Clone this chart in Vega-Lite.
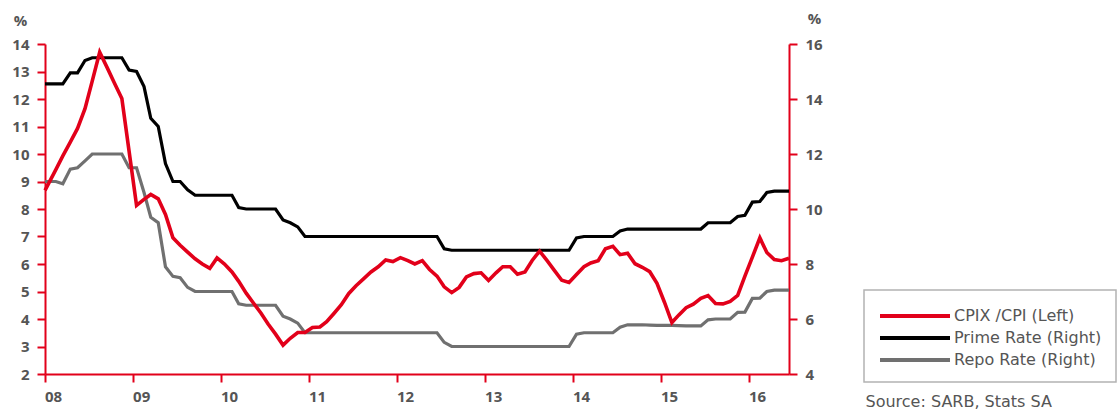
{
  "$schema": "https://vega.github.io/schema/vega-lite/v6.json",
  "width": 744,
  "height": 330,
  "autosize": "none",
  "padding": {"left": 45, "top": 44, "right": 330, "bottom": 36},
  "background": "white",
  "config": {
    "view": {"stroke": null},
    "font": "Open Sans",
    "axis": {
      "grid": false,
      "domainColor": "#e2001a",
      "domainWidth": 2,
      "tickColor": "#e2001a",
      "tickWidth": 2,
      "tickSize": 8,
      "labelFont": "Open Sans",
      "labelFontSize": 15,
      "labelFontWeight": "bold",
      "labelColor": "#555555",
      "titleFont": "Open Sans",
      "titleColor": "#555555"
    },
    "legend": {
      "orient": "none",
      "legendX": 819,
      "legendY": 246,
      "symbolType": "M-1,0L6,0",
      "symbolSize": 400,
      "symbolStrokeWidth": 4,
      "labelFont": "DejaVu Sans",
      "labelFontSize": 16,
      "labelColor": "#555555",
      "labelOffset": 52,
      "labelLimit": 300,
      "rowPadding": 2,
      "padding": 14,
      "strokeColor": "#b3b3b3",
      "strokeWidth": 1.5,
      "fillColor": "white"
    }
  },
  "data": {
    "values": [
      {"date": "2008-01-01", "cpi": 8.68, "prime": 14.55, "repo": 11.0},
      {"date": "2008-02-15", "cpi": 9.43, "prime": 14.55, "repo": 11.0},
      {"date": "2008-03-15", "cpi": 9.93, "prime": 14.55, "repo": 10.92},
      {"date": "2008-04-15", "cpi": 10.43, "prime": 14.95, "repo": 11.45},
      {"date": "2008-05-15", "cpi": 10.93, "prime": 14.95, "repo": 11.5},
      {"date": "2008-06-15", "cpi": 11.65, "prime": 15.4, "repo": 11.75},
      {"date": "2008-07-15", "cpi": 12.65, "prime": 15.5, "repo": 12.0},
      {"date": "2008-08-15", "cpi": 13.7, "prime": 15.5, "repo": 12.0},
      {"date": "2008-09-15", "cpi": 13.14, "prime": 15.5, "repo": 12.0},
      {"date": "2008-10-15", "cpi": 12.58, "prime": 15.5, "repo": 12.0},
      {"date": "2008-11-15", "cpi": 12.02, "prime": 15.5, "repo": 12.0},
      {"date": "2008-12-15", "cpi": 10.1, "prime": 15.05, "repo": 11.5},
      {"date": "2009-01-15", "cpi": 8.13, "prime": 15.0, "repo": 11.5},
      {"date": "2009-02-15", "cpi": 8.35, "prime": 14.45, "repo": 10.6},
      {"date": "2009-03-15", "cpi": 8.53, "prime": 13.3, "repo": 9.7},
      {"date": "2009-04-15", "cpi": 8.37, "prime": 13.0, "repo": 9.5},
      {"date": "2009-05-15", "cpi": 7.8, "prime": 11.65, "repo": 7.9},
      {"date": "2009-06-15", "cpi": 6.95, "prime": 11.0, "repo": 7.55},
      {"date": "2009-07-15", "cpi": 6.68, "prime": 11.0, "repo": 7.5},
      {"date": "2009-08-15", "cpi": 6.43, "prime": 10.7, "repo": 7.15},
      {"date": "2009-09-15", "cpi": 6.19, "prime": 10.5, "repo": 7.0},
      {"date": "2009-10-15", "cpi": 6.0, "prime": 10.5, "repo": 7.0},
      {"date": "2009-11-15", "cpi": 5.84, "prime": 10.5, "repo": 7.0},
      {"date": "2009-12-15", "cpi": 6.22, "prime": 10.5, "repo": 7.0},
      {"date": "2010-01-15", "cpi": 6.0, "prime": 10.5, "repo": 7.0},
      {"date": "2010-02-15", "cpi": 5.71, "prime": 10.5, "repo": 7.0},
      {"date": "2010-03-15", "cpi": 5.37, "prime": 10.05, "repo": 6.55},
      {"date": "2010-04-15", "cpi": 4.94, "prime": 10.0, "repo": 6.5},
      {"date": "2010-05-15", "cpi": 4.58, "prime": 10.0, "repo": 6.5},
      {"date": "2010-06-15", "cpi": 4.22, "prime": 10.0, "repo": 6.5},
      {"date": "2010-07-15", "cpi": 3.82, "prime": 10.0, "repo": 6.5},
      {"date": "2010-08-15", "cpi": 3.45, "prime": 10.0, "repo": 6.5},
      {"date": "2010-09-15", "cpi": 3.05, "prime": 9.6, "repo": 6.1},
      {"date": "2010-10-15", "cpi": 3.3, "prime": 9.5, "repo": 6.0},
      {"date": "2010-11-15", "cpi": 3.51, "prime": 9.35, "repo": 5.85},
      {"date": "2010-12-15", "cpi": 3.51, "prime": 9.0, "repo": 5.5},
      {"date": "2011-01-15", "cpi": 3.69, "prime": 9.0, "repo": 5.5},
      {"date": "2011-02-15", "cpi": 3.71, "prime": 9.0, "repo": 5.5},
      {"date": "2011-03-15", "cpi": 3.9, "prime": 9.0, "repo": 5.5},
      {"date": "2011-04-15", "cpi": 4.21, "prime": 9.0, "repo": 5.5},
      {"date": "2011-05-15", "cpi": 4.52, "prime": 9.0, "repo": 5.5},
      {"date": "2011-06-15", "cpi": 4.93, "prime": 9.0, "repo": 5.5},
      {"date": "2011-07-15", "cpi": 5.21, "prime": 9.0, "repo": 5.5},
      {"date": "2011-08-15", "cpi": 5.46, "prime": 9.0, "repo": 5.5},
      {"date": "2011-09-15", "cpi": 5.71, "prime": 9.0, "repo": 5.5},
      {"date": "2011-10-15", "cpi": 5.9, "prime": 9.0, "repo": 5.5},
      {"date": "2011-11-15", "cpi": 6.15, "prime": 9.0, "repo": 5.5},
      {"date": "2011-12-15", "cpi": 6.09, "prime": 9.0, "repo": 5.5},
      {"date": "2012-01-15", "cpi": 6.23, "prime": 9.0, "repo": 5.5},
      {"date": "2012-02-15", "cpi": 6.12, "prime": 9.0, "repo": 5.5},
      {"date": "2012-03-15", "cpi": 6.0, "prime": 9.0, "repo": 5.5},
      {"date": "2012-04-15", "cpi": 6.12, "prime": 9.0, "repo": 5.5},
      {"date": "2012-05-15", "cpi": 5.8, "prime": 9.0, "repo": 5.5},
      {"date": "2012-06-15", "cpi": 5.56, "prime": 9.0, "repo": 5.5},
      {"date": "2012-07-15", "cpi": 5.17, "prime": 8.55, "repo": 5.15},
      {"date": "2012-08-15", "cpi": 4.96, "prime": 8.5, "repo": 5.0},
      {"date": "2012-09-15", "cpi": 5.15, "prime": 8.5, "repo": 5.0},
      {"date": "2012-10-15", "cpi": 5.53, "prime": 8.5, "repo": 5.0},
      {"date": "2012-11-15", "cpi": 5.65, "prime": 8.5, "repo": 5.0},
      {"date": "2012-12-15", "cpi": 5.68, "prime": 8.5, "repo": 5.0},
      {"date": "2013-01-15", "cpi": 5.4, "prime": 8.5, "repo": 5.0},
      {"date": "2013-02-15", "cpi": 5.68, "prime": 8.5, "repo": 5.0},
      {"date": "2013-03-15", "cpi": 5.9, "prime": 8.5, "repo": 5.0},
      {"date": "2013-04-15", "cpi": 5.9, "prime": 8.5, "repo": 5.0},
      {"date": "2013-05-15", "cpi": 5.63, "prime": 8.5, "repo": 5.0},
      {"date": "2013-06-15", "cpi": 5.71, "prime": 8.5, "repo": 5.0},
      {"date": "2013-07-15", "cpi": 6.13, "prime": 8.5, "repo": 5.0},
      {"date": "2013-08-15", "cpi": 6.47, "prime": 8.5, "repo": 5.0},
      {"date": "2013-09-15", "cpi": 6.12, "prime": 8.5, "repo": 5.0},
      {"date": "2013-10-15", "cpi": 5.77, "prime": 8.5, "repo": 5.0},
      {"date": "2013-11-15", "cpi": 5.41, "prime": 8.5, "repo": 5.0},
      {"date": "2013-12-15", "cpi": 5.33, "prime": 8.5, "repo": 5.0},
      {"date": "2014-01-15", "cpi": 5.62, "prime": 8.95, "repo": 5.45},
      {"date": "2014-02-15", "cpi": 5.9, "prime": 9.0, "repo": 5.5},
      {"date": "2014-03-15", "cpi": 6.04, "prime": 9.0, "repo": 5.5},
      {"date": "2014-04-15", "cpi": 6.12, "prime": 9.0, "repo": 5.5},
      {"date": "2014-05-15", "cpi": 6.55, "prime": 9.0, "repo": 5.5},
      {"date": "2014-06-15", "cpi": 6.64, "prime": 9.0, "repo": 5.5},
      {"date": "2014-07-15", "cpi": 6.34, "prime": 9.2, "repo": 5.7},
      {"date": "2014-08-15", "cpi": 6.39, "prime": 9.27, "repo": 5.79},
      {"date": "2014-09-15", "cpi": 6.01, "prime": 9.27, "repo": 5.79},
      {"date": "2014-10-15", "cpi": 5.88, "prime": 9.27, "repo": 5.79},
      {"date": "2014-11-15", "cpi": 5.72, "prime": 9.27, "repo": 5.78},
      {"date": "2014-12-15", "cpi": 5.3, "prime": 9.27, "repo": 5.77},
      {"date": "2015-01-15", "cpi": 4.61, "prime": 9.27, "repo": 5.77},
      {"date": "2015-02-15", "cpi": 3.87, "prime": 9.27, "repo": 5.77},
      {"date": "2015-03-15", "cpi": 4.14, "prime": 9.27, "repo": 5.76},
      {"date": "2015-04-15", "cpi": 4.41, "prime": 9.27, "repo": 5.75},
      {"date": "2015-05-15", "cpi": 4.54, "prime": 9.27, "repo": 5.75},
      {"date": "2015-06-15", "cpi": 4.75, "prime": 9.27, "repo": 5.75},
      {"date": "2015-07-15", "cpi": 4.85, "prime": 9.5, "repo": 5.97},
      {"date": "2015-08-15", "cpi": 4.56, "prime": 9.5, "repo": 6.0},
      {"date": "2015-09-15", "cpi": 4.55, "prime": 9.5, "repo": 6.0},
      {"date": "2015-10-15", "cpi": 4.64, "prime": 9.5, "repo": 6.0},
      {"date": "2015-11-15", "cpi": 4.86, "prime": 9.73, "repo": 6.24},
      {"date": "2015-12-15", "cpi": 5.56, "prime": 9.77, "repo": 6.25},
      {"date": "2016-01-15", "cpi": 6.25, "prime": 10.25, "repo": 6.75},
      {"date": "2016-02-15", "cpi": 6.95, "prime": 10.27, "repo": 6.76},
      {"date": "2016-03-15", "cpi": 6.42, "prime": 10.6, "repo": 7.0},
      {"date": "2016-04-15", "cpi": 6.16, "prime": 10.65, "repo": 7.05},
      {"date": "2016-05-15", "cpi": 6.12, "prime": 10.65, "repo": 7.05},
      {"date": "2016-06-15", "cpi": 6.21, "prime": 10.65, "repo": 7.05}
    ]
  },
  "encoding": {
    "x": {
      "field": "date",
      "type": "temporal",
      "scale": {
        "type": "utc",
        "domain": [
          {"year": 2008, "month": 1, "date": 1, "utc": true},
          {"year": 2016, "month": 6, "date": 15, "utc": true}
        ]
      },
      "axis": {
        "tickCount": {"interval": "year", "step": 1},
        "labelExpr": "utcFormat(datum.value, '%y')",
        "labelOffset": 8,
        "labelPadding": 7,
        "labelAlign": "center",
        "title": "Source: SARB, Stats SA",
        "titleX": 820,
        "titleY": 32,
        "titleAlign": "left",
        "titleAnchor": null,
        "titleBaseline": "alphabetic",
        "titleFont": "DejaVu Sans",
        "titleFontSize": 16,
        "titleFontWeight": "normal"
      }
    }
  },
  "layer": [
    {
      "layer": [
        {
          "mark": {"type": "line", "strokeWidth": 3.2},
          "encoding": {
            "y": {
              "field": "repo",
              "type": "quantitative",
              "scale": {"domain": [4, 16], "nice": false, "zero": false},
              "axis": {
                "orient": "right",
                "values": [4, 6, 8, 10, 12, 14, 16],
                "labelPadding": 8,
                "title": "%",
                "titleAngle": 0,
                "titleX": 25,
                "titleY": -26,
                "titleAlign": "center",
                "titleBaseline": "middle",
                "titleFontSize": 15,
                "titleFontWeight": "bold"
              }
            },
            "color": {
              "datum": "Repo Rate (Right)",
              "type": "nominal",
              "scale": {
                "domain": ["CPIX /CPI (Left)", "Prime Rate (Right)", "Repo Rate (Right)"],
                "range": ["#e2001a", "#000000", "#707070"]
              },
              "legend": {"title": null}
            }
          }
        },
        {
          "mark": {"type": "line", "strokeWidth": 3.2},
          "encoding": {
            "y": {"field": "prime", "type": "quantitative"},
            "color": {"datum": "Prime Rate (Right)", "type": "nominal"}
          }
        }
      ]
    },
    {
      "mark": {"type": "line", "strokeWidth": 3.6},
      "encoding": {
        "y": {
          "field": "cpi",
          "type": "quantitative",
          "scale": {"domain": [2, 14], "nice": false, "zero": false},
          "axis": {
            "orient": "left",
            "values": [2, 3, 4, 5, 6, 7, 8, 9, 10, 11, 12, 13, 14],
            "labelPadding": 8,
            "title": "%",
            "titleAngle": 0,
            "titleX": -25,
            "titleY": -24,
            "titleAlign": "center",
            "titleBaseline": "middle",
            "titleFontSize": 15,
            "titleFontWeight": "bold"
          }
        },
        "color": {"datum": "CPIX /CPI (Left)", "type": "nominal"}
      }
    }
  ],
  "resolve": {"scale": {"y": "independent"}}
}
